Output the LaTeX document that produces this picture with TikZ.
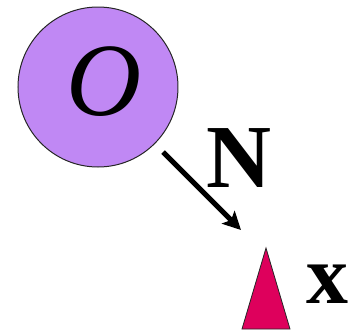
\documentclass[tikz,border=0pt]{standalone}
\usepackage{fontspec}
\setmainfont{Liberation Serif}
\usepackage{tikz}
\usetikzlibrary{arrows.meta,positioning,shapes.geometric}

\definecolor{blobfill}{RGB}{192,136,244}
\definecolor{markfill}{RGB}{222,0,92}

\begin{document}
\begin{tikzpicture}[x=1pt, y=-1pt,
  bigtext/.style={font=\fontsize{90}{90}\selectfont, inner sep=0pt},
  blob/.style={circle, draw=black!85, line width=1pt, fill=blobfill, minimum size=160pt, inner sep=0pt, outer sep=12pt},
  marker/.style={isosceles triangle, shape border rotate=90, isosceles triangle stretches, draw=black!85, line width=0.8pt, fill=markfill, minimum width=48pt, minimum height=81pt, inner sep=0pt}]
\useasboundingbox (0,0) rectangle (360,330);
\node[blob] (O) at (98,87) {};
\node[bigtext, font=\fontsize{104}{104}\selectfont\itshape] (Olbl) at (104,82) {O};
\coordinate (tip) at (241,230);
\draw[line width=5pt, -{Stealth[length=18pt,width=18pt,inset=4pt]}] (O) -- (tip);
\node[bigtext, font=\fontsize{90}{90}\selectfont\bfseries] (N) at (239,158) {N};
\node[marker, anchor=apex] (xmark) at (266,247) {};
\node[bigtext, font=\fontsize{84}{84}\selectfont\bfseries] (xlbl) at (327,284) {x};
\end{tikzpicture}
\end{document}
